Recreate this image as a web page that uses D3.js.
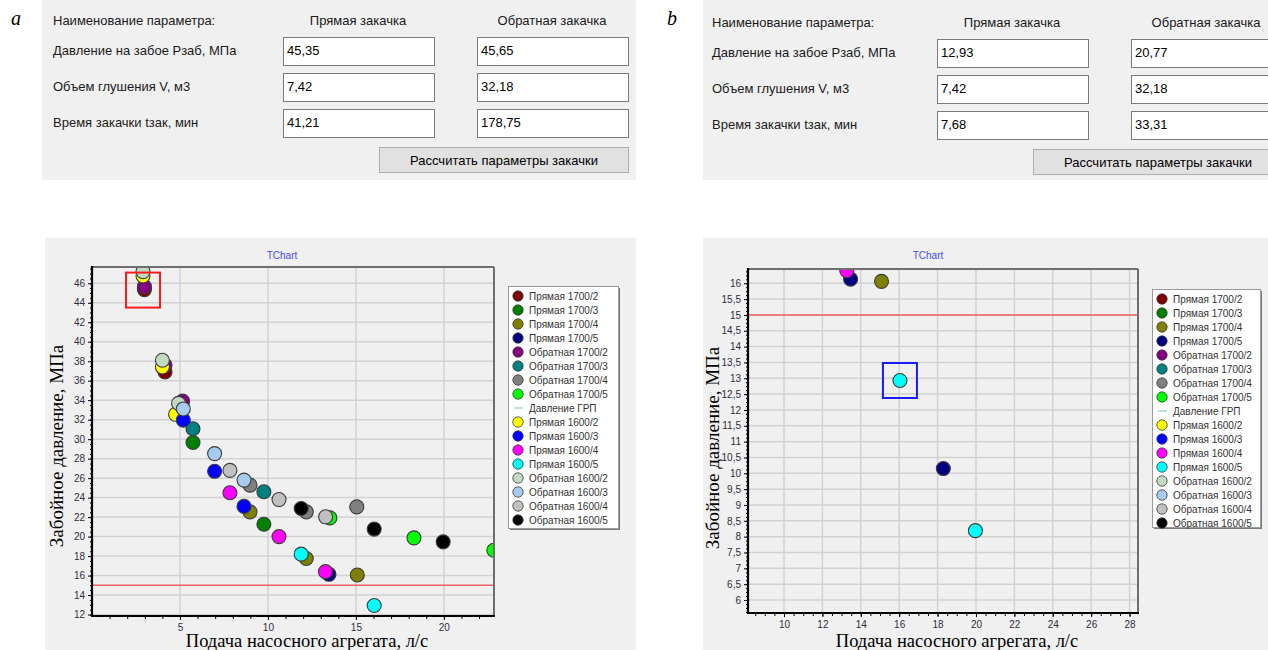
<!DOCTYPE html>
<html>
<head>
<meta charset="utf-8">
<script src="https://cdn.jsdelivr.net/npm/d3@7"></script>
<style>
  body { margin: 0; background: #fff; }
  svg { display: block; }
</style>
</head>
<body>
<div id="fig"></div>
<script>
// ---- table data ----
const paramLabels = ["Давление на забое Рзаб, МПа", "Объем глушения V, м3", "Время закачки tзак, мин"];
const colHeaders = ["Прямая закачка", "Обратная закачка"];
const directA = ["45,35", "7,42", "41,21"];
const reverseA = ["45,65", "32,18", "178,75"];
const directB = ["12,93", "7,42", "7,68"];
const reverseB = ["20,77", "32,18", "33,31"];

// ---- chart series (legend order) ----
const seriesNames = [
  "Прямая 1700/2", "Прямая 1700/3", "Прямая 1700/4", "Прямая 1700/5",
  "Обратная 1700/2", "Обратная 1700/3", "Обратная 1700/4", "Обратная 1700/5",
  "Давление ГРП",
  "Прямая 1600/2", "Прямая 1600/3", "Прямая 1600/4", "Прямая 1600/5",
  "Обратная 1600/2", "Обратная 1600/3", "Обратная 1600/4", "Обратная 1600/5"
];
const seriesColors = [
  "#800000", "#008000", "#808000", "#000080",
  "#800080", "#008080", "#808080", "#00ff00",
  "#a8d8c8",
  "#ffff00", "#0000ff", "#ff00ff", "#00ffff",
  "#c0dcc0", "#a6caf0", "#c0c0c0", "#000000"
];

// points [подача, л/с ; давление, МПа]
const pr1700_2 = [[2.98, 45.35], [4.15, 36.9]];
const pr1700_3 = [[5.74, 29.66], [9.77, 21.27]];
const pr1700_4 = [[8.98, 22.54], [12.18, 17.75], [15.08, 16.06]];
const pr1700_5 = [[13.47, 16.13], [18.3, 10.15]];
const ob1700_2 = [[2.98, 45.65], [4.15, 37.6], [5.15, 33.9]];
const ob1700_3 = [[5.74, 31.07], [9.77, 24.6]];
const ob1700_4 = [[8.98, 25.28], [12.18, 22.54], [15.05, 23.05]];
const ob1700_5 = [[13.52, 21.92], [18.3, 19.87], [22.84, 18.6]];
const grpPressure = 15;
const pr1600_2 = [[2.9, 46.75], [4.0, 37.4], [4.75, 32.55]];
const pr1600_3 = [[5.19, 31.95], [6.97, 26.7], [8.64, 23.1]];
const pr1600_4 = [[7.84, 24.5], [10.63, 20.0], [13.27, 16.4]];
const pr1600_5 = [[11.89, 18.2], [16.04, 12.93], [19.97, 8.19]];
const ob1600_2 = [[2.9, 47.2], [4.0, 38.1], [4.92, 33.67]];
const ob1600_3 = [[5.19, 33.1], [6.97, 28.52], [8.64, 25.8]];
const ob1600_4 = [[7.84, 26.8], [10.63, 23.8], [13.28, 22.03]];
const ob1600_5 = [[11.89, 22.88], [16.04, 20.77], [19.96, 19.46]];

// highlighted points (the ones shown in the tables)
const highlightA = [2.9, 45.3];
const highlightB = [16.04, 12.93];

// ---- ticks ----
const xTicksA = [5, 10, 15, 20];
const yTicksA = [12, 14, 16, 18, 20, 22, 24, 26, 28, 30, 32, 34, 36, 38, 40, 42, 44, 46];
const xTicksB = [10, 12, 14, 16, 18, 20, 22, 24, 26, 28];
const yTicksB = [6, 6.5, 7, 7.5, 8, 8.5, 9, 9.5, 10, 10.5, 11, 11.5, 12, 12.5, 13, 13.5, 14, 14.5, 15, 15.5, 16];

const pointData = [
  pr1700_2, pr1700_3, pr1700_4, pr1700_5,
  ob1700_2, ob1700_3, ob1700_4, ob1700_5,
  null,
  pr1600_2, pr1600_3, pr1600_4, pr1600_5,
  ob1600_2, ob1600_3, ob1600_4, ob1600_5
];
const series = seriesNames.map((name, i) => ({ name, color: seriesColors[i], pts: pointData[i] }));

const fmt = (v) => String(v).replace(".", ",");
const FONT = "'Liberation Sans', Arial, sans-serif";

const svg = d3.select("#fig").append("svg")
  .attr("width", 1268).attr("height", 650)
  .style("font-family", FONT);

// ---------- parameter table ----------
function drawTable(panel, ox, oy, labelX, direct, reverse, letter, letterX) {
  const g = svg.append("g");
  g.append("rect").attr("x", panel.x).attr("y", panel.y)
    .attr("width", panel.w).attr("height", panel.h).attr("fill", "#f0f0f0");

  g.append("text").attr("x", letterX).attr("y", 25)
    .style("font-family", "'Liberation Serif', 'Times New Roman', serif")
    .style("font-style", "italic").style("font-size", "20px").text(letter);

  g.append("text").attr("x", labelX).attr("y", oy + 25)
    .style("font-size", "13px").attr("fill", "#1a1a1a").text("Наименование параметра:");
  g.append("text").attr("x", ox + 358).attr("y", oy + 25).attr("text-anchor", "middle")
    .style("font-size", "13px").attr("fill", "#1a1a1a").text(colHeaders[0]);
  g.append("text").attr("x", ox + 552).attr("y", oy + 25).attr("text-anchor", "middle")
    .style("font-size", "13px").attr("fill", "#1a1a1a").text(colHeaders[1]);

  paramLabels.forEach((lab, i) => {
    const ry = oy + 37 + i * 36;
    g.append("text").attr("x", labelX).attr("y", ry + 18)
      .style("font-size", "13px").attr("fill", "#1a1a1a").text(lab);
    [[283, direct[i]], [477, reverse[i]]].forEach(([cx, val]) => {
      g.append("rect").attr("x", ox + cx + 0.5).attr("y", ry + 0.5)
        .attr("width", 151).attr("height", 28)
        .attr("fill", "#fff").attr("stroke", "#7a7a7a");
      g.append("text").attr("x", ox + cx + 4).attr("y", ry + 18)
        .style("font-size", "13px").attr("fill", "#000").text(val);
    });
  });

  g.append("rect").attr("x", ox + 379.5).attr("y", oy + 147.5)
    .attr("width", 249).attr("height", 25)
    .attr("fill", "#e1e1e1").attr("stroke", "#adadad");
  g.append("text").attr("x", ox + 504).attr("y", oy + 165).attr("text-anchor", "middle")
    .style("font-size", "13px").attr("fill", "#000").text("Рассчитать параметры закачки");
}

drawTable({ x: 42, y: 0, w: 594, h: 180 }, 0, 0, 53, directA, reverseA, "a", 11);
drawTable({ x: 703, y: 0, w: 565, h: 180 }, 654, 2, 712, directB, reverseB, "b", 667);

// ---------- scatter chart ----------
function drawChart(cfg, id) {
  const p = cfg.plot;
  const g = svg.append("g");

  g.append("rect").attr("x", cfg.panel.x).attr("y", cfg.panel.y)
    .attr("width", cfg.panel.w).attr("height", cfg.panel.h).attr("fill", "#f0f0f0");

  g.append("text").attr("x", cfg.titleX).attr("y", 259).attr("text-anchor", "middle")
    .style("font-size", "10px").attr("fill", "#4848ff").text("TChart");

  const x = d3.scaleLinear().domain(cfg.xDomain).range([p.l, p.r]);
  const y = d3.scaleLinear().domain(cfg.yDomain).range([p.b, p.t]);

  // grid
  g.append("g").selectAll("line").data(cfg.xTicks).join("line")
    .attr("x1", (d) => x(d)).attr("x2", (d) => x(d))
    .attr("y1", p.t).attr("y2", p.b)
    .attr("stroke", "#d2d2d2").attr("stroke-width", 1.5);
  g.append("g").selectAll("line").data(cfg.yTicks).join("line")
    .attr("x1", p.l).attr("x2", p.r)
    .attr("y1", (d) => y(d)).attr("y2", (d) => y(d))
    .attr("stroke", "#d2d2d2").attr("stroke-width", 1.5);

  svg.append("clipPath").attr("id", "clip" + id)
    .append("rect").attr("x", p.l).attr("y", p.t)
    .attr("width", p.r - p.l).attr("height", p.b - p.t);

  const plotG = g.append("g").attr("clip-path", `url(#clip${id})`);
  series.forEach((s) => {
    if (!s.pts) {
      plotG.append("line")
        .attr("x1", p.l).attr("x2", p.r)
        .attr("y1", y(grpPressure)).attr("y2", y(grpPressure))
        .attr("stroke", "#f06060").attr("stroke-width", 1.6);
      return;
    }
    plotG.append("g").selectAll("circle").data(s.pts).join("circle")
      .attr("cx", (d) => x(d[0])).attr("cy", (d) => y(d[1]))
      .attr("r", 7)
      .attr("fill", s.color)
      .attr("stroke", "#3c3c3c").attr("stroke-width", 1.1);
  });

  // frame
  g.append("line").attr("x1", p.l).attr("x2", p.r).attr("y1", p.t).attr("y2", p.t)
    .attr("stroke", "#6e6e6e").attr("stroke-width", 2);
  g.append("line").attr("x1", p.r).attr("x2", p.r).attr("y1", p.t).attr("y2", p.b)
    .attr("stroke", "#6e6e6e").attr("stroke-width", 2);

  // axes
  const styleAxis = (ax) => {
    ax.select(".domain").remove();
    ax.selectAll(".tick line").attr("stroke", "#000");
    ax.selectAll("text").style("font-family", FONT).style("font-size", "10px").attr("fill", "#2e2e3e");
  };
  g.append("g").attr("transform", `translate(${p.l},0)`)
    .call(d3.axisLeft(y).tickValues(cfg.yMinor).tickSize(2).tickFormat(""))
    .call(styleAxis);
  g.append("g").attr("transform", `translate(${p.l},0)`)
    .call(d3.axisLeft(y).tickValues(cfg.yTicks).tickSize(4).tickPadding(3).tickFormat(fmt))
    .call(styleAxis);
  g.append("g").attr("transform", `translate(0,${p.b})`)
    .call(d3.axisBottom(x).tickValues(cfg.xMinor).tickSize(3).tickFormat(""))
    .call(styleAxis);
  g.append("g").attr("transform", `translate(0,${p.b})`)
    .call(d3.axisBottom(x).tickValues(cfg.xTicks).tickSize(4).tickPadding(4).tickFormat(fmt))
    .call(styleAxis);

  g.append("line").attr("x1", p.l).attr("x2", p.l).attr("y1", p.t - 1).attr("y2", p.b + 1)
    .attr("stroke", "#000").attr("stroke-width", 2.2);
  g.append("line").attr("x1", p.l - 1).attr("x2", p.r + 1).attr("y1", p.b).attr("y2", p.b)
    .attr("stroke", "#000").attr("stroke-width", 2.2);

  // highlight box around the selected point
  const hx = x(cfg.highlight[0]), hy = y(cfg.highlight[1]);
  g.append("rect")
    .attr("x", hx - 17).attr("y", hy - 17.5)
    .attr("width", 34).attr("height", 35)
    .attr("fill", "none").attr("stroke", cfg.highlightColor).attr("stroke-width", 2);

  // axis titles
  g.append("text")
    .attr("transform", `translate(${cfg.yTitleX},${cfg.yTitleY}) rotate(-90)`)
    .attr("text-anchor", "middle")
    .style("font-family", "'Liberation Serif', 'Times New Roman', serif")
    .style("font-size", "19px").attr("fill", "#000")
    .text("Забойное давление, МПа");
  g.append("text").attr("x", cfg.xTitleX).attr("y", 647).attr("text-anchor", "middle")
    .style("font-family", "'Liberation Serif', 'Times New Roman', serif")
    .style("font-size", "18.5px").attr("fill", "#000")
    .text("Подача насосного агрегата, л/с");

  // legend
  const L = cfg.legend;
  g.append("rect").attr("x", L.x + 2).attr("y", L.y + 2).attr("width", L.w).attr("height", L.h)
    .attr("fill", "#7a7a7a");
  g.append("rect").attr("x", L.x + 0.5).attr("y", L.y + 0.5).attr("width", L.w).attr("height", L.h)
    .attr("fill", "#fff").attr("stroke", "#9a9a9a");
  series.forEach((s, i) => {
    const ly = L.y + 10 + i * 14;
    if (!s.pts) {
      g.append("line").attr("x1", L.x + 6).attr("x2", L.x + 15).attr("y1", ly).attr("y2", ly)
        .attr("stroke", s.color).attr("stroke-width", 1.5);
    } else {
      g.append("circle").attr("cx", L.x + 10).attr("cy", ly).attr("r", 5.2)
        .attr("fill", s.color).attr("stroke", "#3c3c3c").attr("stroke-width", 0.8);
    }
    g.append("text").attr("x", L.x + 21).attr("y", ly + 3.5)
      .style("font-size", "10px").attr("fill", "#333").text(s.name);
  });
}

drawChart({
  panel: { x: 45, y: 238, w: 591, h: 412 },
  plot: { l: 92, t: 267, r: 494, b: 616 },
  xDomain: [0, 22.85], yDomain: [11.85, 47.67],
  xTicks: xTicksA, xMinor: d3.range(1, 23, 1),
  yTicks: yTicksA, yMinor: d3.range(12, 47.6, 0.5),
  titleX: 282, yTitleX: 63, yTitleY: 446, xTitleX: 307,
  legend: { x: 508, y: 286, w: 110, h: 242 },
  highlight: highlightA, highlightColor: "#ff1a1a"
}, "a");

drawChart({
  panel: { x: 703, y: 238, w: 565, h: 412 },
  plot: { l: 748, t: 269, r: 1138, b: 613 },
  xDomain: [8.125, 28.44], yDomain: [5.59, 16.45],
  xTicks: xTicksB, xMinor: d3.range(8.5, 28.44, 0.5),
  yTicks: yTicksB, yMinor: d3.range(5.625, 16.45, 0.125),
  titleX: 928, yTitleX: 719, yTitleY: 448, xTitleX: 957,
  legend: { x: 1152, y: 289, w: 108, h: 238 },
  highlight: highlightB, highlightColor: "#1a1aff"
}, "b");
</script>
</body>
</html>
